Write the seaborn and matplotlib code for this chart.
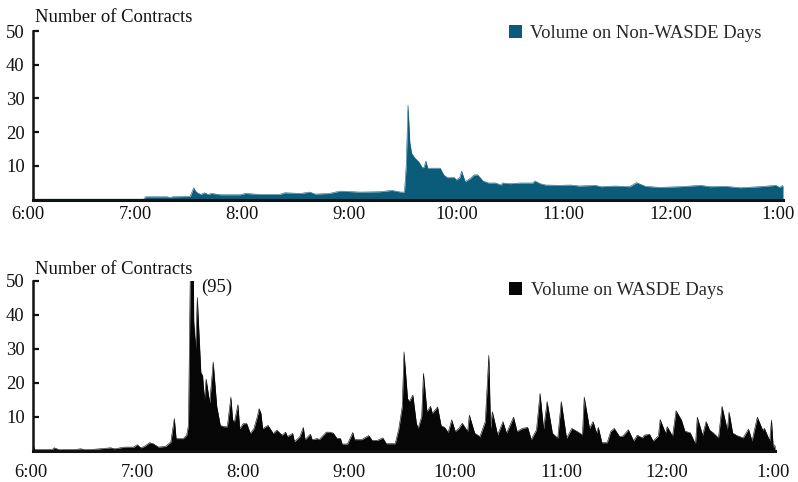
import matplotlib
matplotlib.use("Agg")
import matplotlib.pyplot as plt
import matplotlib.transforms as mtransforms
from matplotlib.patches import Patch
import seaborn as sns
import pandas as pd

# ---------------- data (minutes after 6:00 AM) ----------------
non_wasde_minutes = [0, 62, 63, 75, 77, 78, 88, 90, 91, 92, 94, 96, 98, 100, 105, 116, 119, 127,
                     138, 141, 150, 155, 158, 166, 172, 183, 194, 201, 206, 208, 209, 210, 211,
                     212, 214, 216, 218, 219, 220, 221, 228, 230, 232, 236, 237, 239, 240, 242,
                     245, 247, 249, 252, 255, 259, 262, 263, 267, 273, 280, 281, 284, 287, 295,
                     301, 306, 315, 318, 326, 334, 338, 343, 351, 362, 374, 379, 388, 396, 407,
                     416, 418, 420]
non_wasde_volume = [0.1, 0.1, 0.8, 0.8, 0.6, 0.8, 0.9, 3.5, 2.5, 2.0, 1.5, 2.0, 1.5, 1.8, 1.4, 1.4,
                    1.8, 1.5, 1.5, 2.0, 1.8, 2.2, 1.6, 1.8, 2.5, 2.2, 2.3, 2.7, 2.2, 2.2, 10.0,
                    28.0, 17.0, 13.7, 12.2, 11.2, 9.4, 9.6, 11.4, 9.3, 9.3, 7.3, 6.5, 6.5, 5.8,
                    6.5, 8.4, 5.3, 6.3, 7.3, 7.3, 5.5, 4.9, 4.9, 4.3, 4.9, 4.7, 4.9, 4.9, 5.5,
                    4.7, 4.3, 4.2, 4.3, 4.0, 4.2, 3.8, 4.0, 3.8, 5.0, 3.9, 3.6, 3.8, 4.2, 3.8,
                    3.9, 3.5, 3.8, 4.2, 3.6, 4.2]

wasde_minutes = [0, 1, 11, 12, 15, 24, 27, 30, 38, 44, 46, 52, 57, 59, 61, 63, 66, 68, 71, 75,
                 78, 80, 81, 83, 85, 87, 88, 90, 91, 92, 93, 95, 96, 97, 98, 100, 102, 104, 106,
                 108, 110, 112, 113, 114, 116, 117, 119, 121, 123, 125, 127, 128, 129, 130, 133,
                 136, 138, 141, 143, 144, 147, 148, 151, 153, 154, 157, 158, 161, 162, 164, 166,
                 168, 170, 172, 174, 175, 178, 181, 182, 186, 190, 192, 195, 198, 200, 205, 207,
                 209, 210, 212, 213, 215, 217, 218, 220, 221, 223, 225, 226, 229, 231, 233, 235,
                 237, 239, 241, 243, 246, 247, 250, 253, 256, 258, 259, 260, 263, 266, 268, 272,
                 274, 277, 280, 282, 285, 287, 289, 291, 294, 297, 299, 302, 305, 308, 311, 312,
                 315, 317, 319, 320, 322, 325, 327, 329, 332, 334, 337, 340, 342, 345, 346, 349,
                 351, 354, 355, 358, 359, 362, 364, 367, 369, 372, 375, 376, 379, 381, 383, 385,
                 388, 390, 393, 394, 396, 398, 402, 405, 407, 410, 413, 414, 417, 418, 419, 420]
wasde_volume = [1.5, 0.3, 0.3, 0.8, 0.2, 0.3, 0.5, 0.2, 0.5, 0.8, 0.5, 1.0, 1.0, 1.7, 0.8, 1.2,
                2.3, 2.0, 1.0, 1.2, 2.5, 9.4, 3.5, 3.5, 3.5, 4.5, 7.5, 95.0, 38.0, 30.0, 45.0,
                23.0, 22.0, 15.0, 21.0, 14.0, 26.0, 13.0, 7.4, 7.0, 7.0, 15.7, 9.0, 8.4, 13.5,
                6.4, 7.9, 7.9, 5.0, 6.4, 10.0, 12.3, 11.0, 6.4, 7.4, 5.0, 6.0, 4.5, 5.4, 4.1,
                5.0, 2.6, 4.0, 6.8, 3.2, 4.8, 3.2, 3.5, 3.2, 4.3, 5.4, 5.4, 5.1, 3.6, 3.6, 1.9,
                1.9, 5.3, 3.2, 3.2, 4.4, 3.0, 3.0, 3.7, 2.0, 2.0, 6.2, 12.9, 29.0, 15.3, 14.4,
                16.3, 8.0, 6.5, 10.0, 22.7, 11.4, 13.0, 10.9, 12.8, 7.3, 6.8, 5.3, 9.0, 5.6, 6.5,
                8.0, 5.6, 10.4, 5.1, 4.1, 8.5, 28.0, 6.5, 11.4, 4.6, 8.5, 5.1, 9.8, 5.6, 6.5,
                6.8, 3.2, 6.1, 16.8, 6.3, 14.4, 5.1, 3.6, 14.4, 3.6, 6.5, 5.6, 4.6, 15.7, 6.5,
                8.5, 5.1, 6.8, 2.3, 2.3, 5.6, 6.5, 4.1, 4.3, 6.1, 2.8, 4.5, 3.7, 4.5, 4.8, 2.8,
                4.3, 9.1, 5.1, 7.0, 4.2, 11.7, 9.0, 5.7, 5.2, 1.9, 9.8, 4.5, 8.5, 6.0, 5.2, 3.7,
                13.0, 6.0, 11.3, 5.2, 4.5, 3.7, 6.3, 2.8, 9.8, 6.0, 6.5, 2.8, 9.0, 0.8, 1.7]

hour_ticks = [0, 60, 120, 180, 240, 300, 360, 420]
hour_labels = ["6:00", "7:00", "8:00", "9:00", "10:00", "11:00", "12:00", "1:00"]
y_ticks = [10, 20, 30, 40, 50]
peak_label = "(95)"

df_top = pd.DataFrame({"minute": non_wasde_minutes, "volume": non_wasde_volume})
df_bot = pd.DataFrame({"minute": wasde_minutes, "volume": wasde_volume})

# ---------------- style ----------------
sns.set_theme(style="white")
plt.rcParams["font.family"] = ["Liberation Serif", "DejaVu Serif"]
plt.rcParams["font.size"] = 13

TEAL = "#0b5b7a"
BLACK = "#060606"
FS = 13.4

fig = plt.figure(figsize=(7.98, 4.82), dpi=100)
W, H = 798.0, 482.0
ax_top = fig.add_axes([33 / W, (H - 199.5) / H, 750 / W, 168.5 / H])
ax_bot = fig.add_axes([33 / W, (H - 450.5) / H, 742 / W, 170 / H])


def style_axis(ax, color, df, legend_label, legend_xy, xpad, xshift, title_y):
    sns.lineplot(data=df, x="minute", y="volume", ax=ax, color=color, linewidth=0.4)
    ax.fill_between(df["minute"], 0, df["volume"], color=color, linewidth=0)
    ax.set_xlim(0, 420)
    ax.set_ylim(0, 50)
    ax.set_xlabel("")
    ax.set_ylabel("")
    ax.set_xticks(hour_ticks)
    ax.set_xticklabels(hour_labels, fontsize=FS)
    ax.set_yticks(y_ticks)
    ax.set_yticklabels([str(v) for v in y_ticks], fontsize=FS)
    ax.tick_params(axis="x", length=0, pad=xpad, colors="#111111")
    ax.tick_params(axis="y", direction="in", length=4.5, width=1.6, pad=6, colors="#111111",
                   left=True)
    for lab in ax.get_xticklabels():
        lab.set_transform(lab.get_transform() +
                          mtransforms.ScaledTranslation(xshift / 100.0, 0, fig.dpi_scale_trans))
    for side in ["top", "right"]:
        ax.spines[side].set_visible(False)
    for side in ["left", "bottom"]:
        ax.spines[side].set_visible(True)
        ax.spines[side].set_color("#111111")
        ax.spines[side].set_linewidth(1.8)
    ax.spines["bottom"].set_linewidth(2.2)
    ax.set_facecolor("white")
    ax.grid(False)
    ax.text(0.003, title_y, "Number of Contracts", transform=ax.transAxes, fontsize=FS,
            ha="left", va="bottom", color="#111111")
    ax.legend(handles=[Patch(facecolor=color, edgecolor="none", label=legend_label)],
              loc="center left", bbox_to_anchor=legend_xy, frameon=False, fontsize=FS,
              handlelength=0.7, handleheight=0.7, handletextpad=0.45, borderpad=0,
              borderaxespad=0)


style_axis(ax_top, TEAL, df_top, "Volume on Non-WASDE Days", (0.634, 0.988), 5, -5, 1.03)
style_axis(ax_bot, BLACK, df_bot, "Volume on WASDE Days", (0.642, 0.944), 9.5, -2, 1.012)

ax_bot.text(104, 48, peak_label, fontsize=FS, ha="center", va="center", color="#111111")

fig.savefig("out.png", dpi=100, facecolor="white")
